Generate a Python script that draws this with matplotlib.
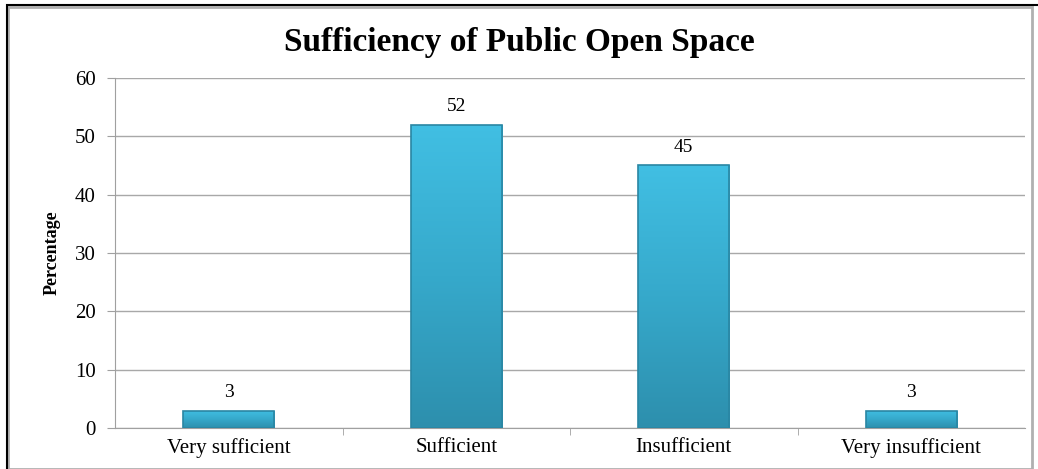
import numpy as np
import matplotlib.pyplot as plt
from matplotlib.patches import Rectangle
from matplotlib.colors import LinearSegmentedColormap

categories = ["Very sufficient", "Sufficient", "Insufficient", "Very insufficient"]
values = [3, 52, 45, 3]
yticks = [0, 10, 20, 30, 40, 50, 60]

plt.rcParams['font.family'] = ['Liberation Serif', 'DejaVu Serif']

fig = plt.figure(figsize=(10.38, 4.69), dpi=100)
ax = fig.add_axes([0.1108, 0.0874, 0.8767, 0.7463])

x = np.arange(len(categories))
bars = ax.bar(x, values, width=0.4, color='none', edgecolor='#2A86A3', linewidth=1.2, zorder=4)

# vertical gradient inside each bar
cmap = LinearSegmentedColormap.from_list("bar", ['#2D8FAD', '#36A9CB', '#41BFE3'])
grad = np.linspace(0, 1, 256).reshape(-1, 1)
for b in bars:
    x0, y0 = b.get_x(), b.get_y()
    w, h = b.get_width(), b.get_height()
    im = ax.imshow(grad, cmap=cmap, origin='lower', aspect='auto',
                   extent=(x0, x0 + w, y0, y0 + h), zorder=3)
    im.set_clip_path(b)

for xi, v in zip(x, values):
    ax.text(xi, v + 1.6, str(v), ha='center', va='bottom', fontsize=14)

ax.set_xlim(-0.5, len(categories) - 0.5)
ax.set_ylim(0, 60)
ax.set_yticks(yticks)
ax.set_xticks(x)
ax.set_xticklabels(categories, fontsize=15)
ax.tick_params(axis='y', labelsize=15, length=6, color='#A0A0A0', pad=8)
ax.tick_params(axis='x', length=0, pad=7)
ax.set_xticks(np.arange(0.5, len(categories) - 0.5, 1), minor=True)
ax.tick_params(axis='x', which='minor', length=5, color='#A0A0A0')
ax.grid(axis='y', color='#A8A8A8', linewidth=1, zorder=0)
for s in ['top', 'right']:
    ax.spines[s].set_visible(False)
for s in ['left', 'bottom']:
    ax.spines[s].set_color('#A0A0A0')
ax.set_ylabel("Percentage", fontsize=13, fontweight='bold', labelpad=10)

fig.text(0.5, 0.91, "Sufficiency of Public Open Space", ha='center', va='center',
         fontsize=24, fontweight='bold')

# outer frame
fig.patches.append(Rectangle((0.008, 0.0), 0.986, 0.985, transform=fig.transFigure,
                             fill=False, edgecolor='#B0B0B0', linewidth=2))
fig.patches.append(Rectangle((0.007, -0.01), 1.0, 0.999, transform=fig.transFigure,
                             fill=False, edgecolor='black', linewidth=1.5))

fig.savefig("out.png", dpi=100)
